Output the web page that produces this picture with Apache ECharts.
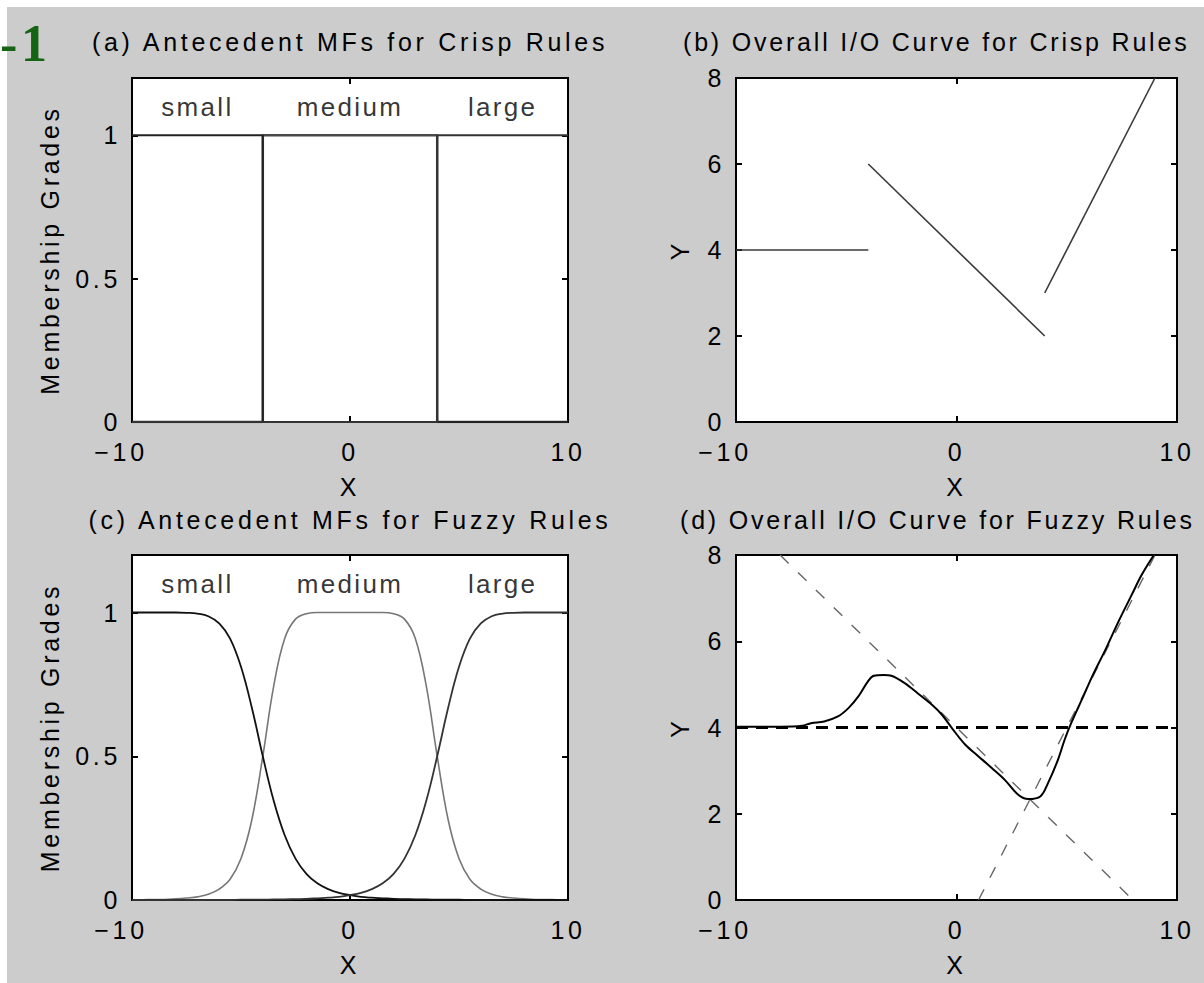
<!DOCTYPE html>
<html>
<head>
<meta charset="utf-8">
<script src="https://cdn.jsdelivr.net/npm/echarts@6/dist/echarts.min.js"></script>
<style>
  html, body { margin: 0; padding: 0; background: #fff; }
  #chart { width: 1204px; height: 983px; }
  /* wide, evenly spaced lettering for all figure text */
  #chart text { letter-spacing: 3.7px; }
  #chart text[style*="26px"] { letter-spacing: 2.3px; }
  /* right-column titles run up to the figure edge */
  #chart text[style*="Helvetica"] { letter-spacing: 2.8px; }
</style>
</head>
<body>
<div id="chart"></div>
<script>
// ---- panel texts ----
const panelTitles = [
  '(a) Antecedent MFs for Crisp Rules',
  '(b) Overall I/O Curve for Crisp Rules',
  '(c) Antecedent MFs for Fuzzy Rules',
  '(d) Overall I/O Curve for Fuzzy Rules'
];
const mfNames = ['small', 'medium', 'large'];
const mfNameAnchors = [[-7, 1.1], [0, 1.1], [7, 1.1]];

// ---- (a) crisp antecedent MFs ----
const crispSmall = [[-10, 1], [-4, 1], [-4, 0], [10, 0]];
const crispMedium = [[-10, 0], [-4, 0], [-4, 1], [4, 1], [4, 0], [10, 0]];
const crispLarge = [[-10, 0], [4, 0], [4, 1], [10, 1]];

// ---- (b) crisp rule outputs ----
const crispOutSmall = [[-10, 4], [-4, 4]];
const crispOutMedium = [[-4, 6], [4, 2]];
const crispOutLarge = [[4, 3], [9, 8]];

// ---- (c) fuzzy antecedent MFs, sampled on X ----
const fuzzyX = [-10, -9.5, -9, -8.5, -8, -7.5, -7, -6.5, -6, -5.5, -5, -4.5, -4, -3.5, -3, -2.5, -2, -1.5, -1, -0.5,
  0, 0.5, 1, 1.5, 2, 2.5, 3, 3.5, 4, 4.5, 5, 5.5, 6, 6.5, 7, 7.5, 8, 8.5, 9, 9.5, 10];
const fuzzySmall = [1, 1, 1, 1, 1, 0.999, 0.996, 0.987, 0.962, 0.909, 0.811, 0.668, 0.5, 0.345, 0.226, 0.144, 0.091, 0.058, 0.038, 0.025,
  0.017, 0.011, 0.008, 0.006, 0.004, 0.003, 0.002, 0.002, 0.001, 0.001, 0.001, 0, 0, 0, 0, 0, 0, 0, 0, 0, 0];
const fuzzyMedium = [0.001, 0.001, 0.002, 0.002, 0.004, 0.007, 0.011, 0.02, 0.038, 0.072, 0.144, 0.28, 0.5, 0.744, 0.909, 0.977, 0.996, 1, 1, 1,
  1, 1, 1, 1, 0.996, 0.977, 0.909, 0.744, 0.5, 0.28, 0.144, 0.072, 0.038, 0.02, 0.011, 0.007, 0.004, 0.002, 0.002, 0.001, 0.001];
const fuzzyLarge = [0, 0, 0, 0, 0, 0, 0, 0, 0, 0, 0.001, 0.001, 0.001, 0.002, 0.002, 0.003, 0.004, 0.006, 0.008, 0.011,
  0.017, 0.025, 0.038, 0.058, 0.091, 0.144, 0.226, 0.345, 0.5, 0.668, 0.811, 0.909, 0.962, 0.987, 0.996, 0.999, 1, 1, 1, 1, 1];

// ---- (d) fuzzy overall I/O curve and rule consequents ----
const fuzzyOutX = [-10, -9, -8, -7, -6.6, -6, -5.4, -4.9, -4.45, -4, -3.75, -3.3, -2.95, -2.35, -1.75, -1.1, -0.65, -0.2,
  0.4, 1, 1.6, 2.2, 2.8, 3.25, 3.8, 4.15, 4.6, 4.9, 5.2, 5.75, 6.15, 6.75, 7.35, 7.95, 8.4, 8.95];
const fuzzyOutY = [4.02, 4.02, 4.02, 4.04, 4.1, 4.14, 4.25, 4.45, 4.72, 5.08, 5.2, 5.22, 5.2, 5.03, 4.79, 4.52, 4.29, 3.98,
  3.6, 3.33, 3.06, 2.78, 2.44, 2.34, 2.4, 2.71, 3.25, 3.71, 4.1, 4.72, 5.18, 5.8, 6.46, 7.08, 7.54, 8.0];
const consSmall = [[-10, 4], [10, 4]];
const consMedium = [[-8, 8], [8, 0]];
const consLarge = [[1, 0], [9, 8]];

// ---- layout ----
const FONT = '"Liberation Sans", Arial, sans-serif';
const FONT_EDGE = '"Liberation Sans", Arial, Helvetica, sans-serif';
const grids = [
  { left: 132, top: 78, width: 436, height: 344 },
  { left: 736, top: 78, width: 441, height: 344 },
  { left: 132, top: 555, width: 436, height: 345 },
  { left: 736, top: 555, width: 441, height: 345 }
];
const isMF = [true, false, true, false];

const pair = (xs, ys) => xs.map((x, i) => [x, ys[i]]);
const tickStyle = { inside: true, length: 6, lineStyle: { color: '#000', width: 2 } };
const labelText = { color: '#000', fontSize: 25, fontFamily: FONT };
const noLine = { show: false, onZero: false };

const xAxes = [], yAxes = [];
grids.forEach((g, i) => {
  // bottom (labelled) and top (ticks only)
  xAxes.push({
    type: 'value', gridIndex: i, min: -10, max: 10, interval: 10, position: 'bottom',
    axisLine: noLine, splitLine: { show: false }, axisTick: tickStyle,
    axisLabel: Object.assign({}, labelText, {
      margin: 17,
      formatter: v => v < 0 ? '{neg|\u2212' + Math.abs(v) + '}' : String(v),
      rich: { neg: Object.assign({}, labelText, { padding: [0, 22, 0, 0] }) }
    }),
    name: 'X', nameLocation: 'middle', nameGap: 52,
    nameTextStyle: labelText
  });
  xAxes.push({
    type: 'value', gridIndex: i, min: -10, max: 10, interval: 10, position: 'top',
    axisLine: noLine, splitLine: { show: false }, axisTick: tickStyle,
    axisLabel: { show: false }
  });
  const yRange = isMF[i] ? { min: 0, max: 1.2, interval: 0.5 } : { min: 0, max: 8, interval: 2 };
  yAxes.push(Object.assign({
    type: 'value', gridIndex: i, position: 'left',
    axisLine: noLine, splitLine: { show: false }, axisTick: tickStyle,
    axisLabel: Object.assign({}, labelText, { margin: 11, showMaxLabel: !isMF[i] }),
    name: isMF[i] ? 'Membership Grades' : 'Y', nameLocation: 'middle',
    nameGap: isMF[i] ? 70 : 44, nameTextStyle: labelText
  }, yRange));
  yAxes.push(Object.assign({
    type: 'value', gridIndex: i, position: 'right',
    axisLine: noLine, splitLine: { show: false }, axisTick: tickStyle,
    axisLabel: { show: false }
  }, yRange));
});

const line = (panel, data, color, width, extra) => Object.assign({
  type: 'line', xAxisIndex: panel * 2, yAxisIndex: panel * 2, data,
  showSymbol: false, symbol: 'none', silent: true,
  lineStyle: { color, width }
}, extra || {});

const mfLabels = panel => ({
  type: 'scatter', xAxisIndex: panel * 2, yAxisIndex: panel * 2, symbolSize: 0, silent: true,
  data: mfNameAnchors.map((p, k) => ({ value: p, name: mfNames[k] })),
  label: { show: true, position: 'inside', formatter: p => p.name, color: '#000', fontSize: 26, fontFamily: FONT }
});

const series = [
  // (a)
  line(0, crispMedium, '#4a4a4a', 2.5),
  line(0, crispSmall, '#222', 2),
  line(0, crispLarge, '#333', 2),
  mfLabels(0),
  // (b)
  line(1, crispOutSmall, '#3a3a3a', 1.6),
  line(1, crispOutMedium, '#3a3a3a', 1.6),
  line(1, crispOutLarge, '#3a3a3a', 1.6),
  // (c)
  line(2, pair(fuzzyX, fuzzyMedium), '#777', 1.6, { smooth: 0.4 }),
  line(2, pair(fuzzyX, fuzzySmall), '#111', 1.8, { smooth: 0.4 }),
  line(2, pair(fuzzyX, fuzzyLarge), '#333', 1.8, { smooth: 0.4 }),
  mfLabels(2),
  // (d)
  line(3, consSmall, '#000', 3, { lineStyle: { color: '#000', width: 3, type: [12, 8] } }),
  line(3, consMedium, '#666', 1.4, { lineStyle: { color: '#666', width: 1.4, type: [12, 13] } }),
  line(3, consLarge, '#666', 1.4, { lineStyle: { color: '#666', width: 1.4, type: [12, 13] } }),
  line(3, pair(fuzzyOutX, fuzzyOutY), '#000', 2, { smooth: 0.35, z: 5 })
];

// left titles centred over their panels, right titles start at the same offset and run to the edge
const titleSpots = [
  { x: 350, y: 42, align: 'center', font: FONT },
  { x: 683, y: 42, align: 'left', font: FONT_EDGE },
  { x: 350, y: 520, align: 'center', font: FONT },
  { x: 680, y: 520, align: 'left', font: FONT_EDGE }
];
const graphic = [
  { type: 'rect', z: -10, shape: { x: 7, y: 7, width: 1204, height: 983 }, style: { fill: '#cccccc' }, silent: true },
  { type: 'text', x: 0, y: 43, style: { text: '-1', font: 'bold 52px "Liberation Serif", "Times New Roman", serif', fill: '#146414', textVerticalAlign: 'middle' } }
].concat(panelTitles.map((t, i) => ({
  type: 'text', x: titleSpots[i].x, y: titleSpots[i].y,
  style: { text: t, font: '25px ' + titleSpots[i].font, fill: '#000', textAlign: titleSpots[i].align, textVerticalAlign: 'middle' }
})));

const chart = echarts.init(document.getElementById('chart'), null, { renderer: 'svg' });
chart.setOption({
  animation: false,
  backgroundColor: '#ffffff',
  grid: grids.map(g => Object.assign({ show: true, backgroundColor: '#fff', borderColor: '#000', borderWidth: 2 }, g)),
  xAxis: xAxes,
  yAxis: yAxes,
  series,
  graphic
});
</script>
</body>
</html>
